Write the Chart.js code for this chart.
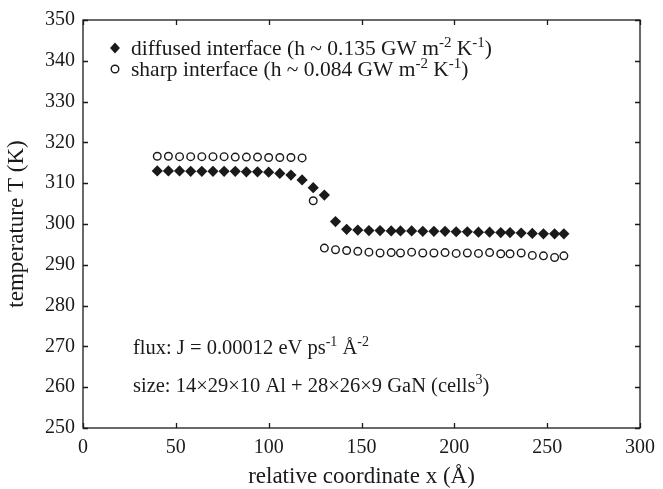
<!DOCTYPE html>
<html>
<head>
<meta charset="utf-8">
<script src="https://cdn.jsdelivr.net/npm/chart.js@4"></script>
<style>
  html, body { margin: 0; padding: 0; background: #fff; }
  canvas { display: block; }
</style>
</head>
<body>
<canvas id="chart" width="663" height="489"></canvas>
<script>
// relative coordinate x (Angstrom) of each cell slab
const xCoord = [
  40, 46, 52, 58, 64, 70, 76, 82, 88, 94,
  100, 106, 112, 118, 124, 130, 136, 142, 148, 154,
  160, 166, 171, 177, 183, 189, 195, 201, 207, 213,
  219, 225, 230, 236, 242, 248, 254, 259
];

// diffused interface (diamonds)
const diffusedT = [
  313.0, 313.0, 313.0, 312.9, 312.9, 312.9, 312.9, 312.9, 312.8, 312.8,
  312.7, 312.4, 312.0, 310.8, 308.9, 307.1, 300.6, 298.7, 298.5, 298.4,
  298.4, 298.3, 298.3, 298.3, 298.2, 298.2, 298.2, 298.1, 298.1, 298.0,
  298.0, 297.9, 297.9, 297.8, 297.7, 297.6, 297.6, 297.6
];

// sharp interface (open circles)
const sharpT = [
  316.6, 316.6, 316.5, 316.5, 316.5, 316.5, 316.5, 316.4, 316.4, 316.4,
  316.3, 316.3, 316.3, 316.2, 305.7, 294.1, 293.7, 293.5, 293.3, 293.1,
  292.9, 293.0, 292.9, 293.1, 292.9, 292.9, 293.0, 292.8, 292.9, 292.8,
  293.0, 292.7, 292.7, 292.9, 292.3, 292.2, 291.8, 292.2
];

const xTicks = [0, 50, 100, 150, 200, 250, 300];
const yTicks = [250, 260, 270, 280, 290, 300, 310, 320, 330, 340, 350];

const FONT = "'Liberation Serif', 'Times New Roman', serif";
const INK = "#1a1a1a";
const LEG = 21.5;   // legend text size
const TXT = 20.5;   // annotation text size

function pts(ys) {
  return xCoord.map((x, i) => ({ x: x, y: ys[i] }));
}

// text with superscripts: parts = [[text, isSup], ...]
function richText(ctx, x, y, parts, size) {
  let cx = x;
  parts.forEach(([txt, sup]) => {
    ctx.font = (sup ? Math.round(size * 0.68) : size) + "px " + FONT;
    ctx.fillText(txt, cx, sup ? y - size * 0.38 : y);
    cx += ctx.measureText(txt).width;
  });
}

function diamond(ctx, x, y, r) {
  ctx.beginPath();
  ctx.moveTo(x, y - r);
  ctx.lineTo(x + r * 0.9, y);
  ctx.lineTo(x, y + r);
  ctx.lineTo(x - r * 0.9, y);
  ctx.closePath();
  ctx.fill();
}

const framePlugin = {
  id: "frame",
  afterDraw(chart) {
    const ctx = chart.ctx;
    const a = chart.chartArea;
    const xs = chart.scales.x, ys = chart.scales.y;
    ctx.save();
    ctx.strokeStyle = INK;
    ctx.lineWidth = 1.3;
    ctx.strokeRect(a.left, a.top, a.right - a.left, a.bottom - a.top);

    // inward ticks on all four sides
    const tl = 5;
    ctx.beginPath();
    xTicks.forEach(v => {
      const px = Math.round(xs.getPixelForValue(v)) + 0.5;
      ctx.moveTo(px, a.bottom); ctx.lineTo(px, a.bottom - tl);
      ctx.moveTo(px, a.top); ctx.lineTo(px, a.top + tl);
    });
    yTicks.forEach(v => {
      const py = Math.round(ys.getPixelForValue(v)) + 0.5;
      ctx.moveTo(a.left, py); ctx.lineTo(a.left + tl, py);
      ctx.moveTo(a.right, py); ctx.lineTo(a.right - tl, py);
    });
    ctx.stroke();

    // legend
    ctx.fillStyle = INK;
    ctx.textBaseline = "alphabetic";
    ctx.textAlign = "left";
    diamond(ctx, 115, 48, 5.5);
    ctx.beginPath();
    ctx.arc(115, 69, 3.8, 0, Math.PI * 2);
    ctx.lineWidth = 1.4;
    ctx.stroke();
    richText(ctx, 131, 55, [
      ["diffused interface (h ~ 0.135 GW m", false], ["-2", true],
      [" K", false], ["-1", true], [")", false]
    ], LEG);
    richText(ctx, 131, 76, [
      ["sharp interface (h ~ 0.084 GW m", false], ["-2", true],
      [" K", false], ["-1", true], [")", false]
    ], LEG);

    // annotations
    richText(ctx, 133, 354, [
      ["flux: J = 0.00012 eV ps", false], ["-1", true],
      [" \u00c5", false], ["-2", true]
    ], TXT);
    richText(ctx, 133, 392, [
      ["size: 14\u00d729\u00d710 Al + 28\u00d726\u00d79 GaN (cells", false], ["3", true],
      [")", false]
    ], TXT);
    ctx.restore();
  }
};

new Chart(document.getElementById("chart"), {
  type: "scatter",
  data: {
    datasets: [
      {
        label: "diffused interface",
        data: pts(diffusedT),
        pointStyle: "rectRot",
        pointRadius: 5.6,
        pointBackgroundColor: INK,
        pointBorderWidth: 0,
        showLine: false
      },
      {
        label: "sharp interface",
        data: pts(sharpT),
        pointStyle: "circle",
        pointRadius: 3.8,
        pointBackgroundColor: "#fff",
        pointBorderColor: INK,
        pointBorderWidth: 1.4,
        showLine: false
      }
    ]
  },
  options: {
    responsive: false,
    animation: false,
    devicePixelRatio: 1,
    layout: { padding: { top: 17, right: 16, left: 0, bottom: 0 } },
    plugins: {
      legend: { display: false },
      tooltip: { enabled: false }
    },
    scales: {
      x: {
        type: "linear",
        min: 0,
        max: 300,
        afterBuildTicks: s => { s.ticks = xTicks.map(v => ({ value: v })); },
        afterFit: s => { s.height = 61; },
        grid: { display: false, drawTicks: false },
        border: { display: false },
        ticks: {
          padding: 8,
          color: INK,
          font: { family: FONT, size: 20 },
          maxRotation: 0
        },
        title: {
          display: true,
          text: "relative coordinate x (\u00c5)",
          color: INK,
          font: { family: FONT, size: 23, lineHeight: 1 },
          padding: { top: 0, bottom: 0.5 }
        }
      },
      y: {
        type: "linear",
        min: 250,
        max: 350,
        afterBuildTicks: s => { s.ticks = yTicks.map(v => ({ value: v })); },
        afterFit: s => { s.width = 83; },
        grid: { display: false, drawTicks: false },
        border: { display: false },
        ticks: {
          padding: 8,
          color: INK,
          font: { family: FONT, size: 20 }
        },
        title: {
          display: true,
          text: "temperature T (K)",
          color: INK,
          font: { family: FONT, size: 23, lineHeight: 1 },
          padding: { top: 5, bottom: 0 }
        }
      }
    }
  },
  plugins: [framePlugin]
});
</script>
</body>
</html>
